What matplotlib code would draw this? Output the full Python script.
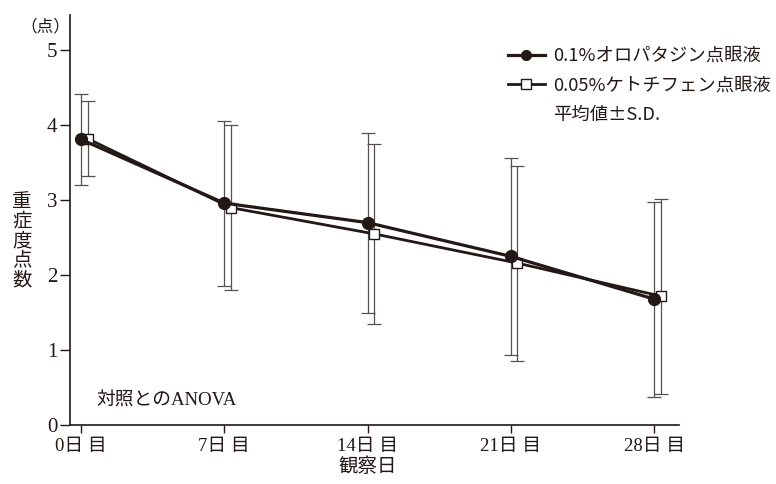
import matplotlib
matplotlib.use("Agg")
import matplotlib.pyplot as plt
from matplotlib.lines import Line2D

# data
days = [0, 7, 14, 21, 28]
day_labels = ["0日 目", "7日 目", "14日 目", "21日 目", "28日 目"]
olo_mean = [3.81, 2.96, 2.70, 2.25, 1.68]
olo_sd = [0.61, 1.10, 1.20, 1.31, 1.30]
keto_mean = [3.82, 2.90, 2.55, 2.16, 1.72]
keto_sd = [0.50, 1.10, 1.20, 1.30, 1.30]
names = ["0.1%オロパタジン点眼液", "0.05%ケトチフェン点眼液"]

ink = "#231815"
serif_jp = ["Liberation Serif", "Noto Sans CJK JP"]
sans_jp = ["Noto Sans CJK JP", "DejaVu Sans"]

fig = plt.figure(figsize=(7.76, 4.84), dpi=100)
ax = fig.add_axes([70 / 776, 59 / 484, 609 / 776, 410 / 484])

shift = 0.32  # square series drawn slightly right of the tick
x2 = [d + shift for d in days]

ax.errorbar(days, olo_mean, yerr=olo_sd, fmt="none", ecolor="#555050",
            elinewidth=0.9, capsize=4.7, capthick=0.9, zorder=2)
ax.errorbar(x2, keto_mean, yerr=keto_sd, fmt="none", ecolor="#555050",
            elinewidth=0.9, capsize=4.7, capthick=0.9, zorder=2)
ax.plot(days, olo_mean, color=ink, lw=2.3, marker="o", ms=8.5,
        mfc=ink, mec=ink, zorder=4)
ax.plot(x2, keto_mean, color=ink, lw=2.0, marker="s", ms=7,
        mfc="white", mec=ink, mew=1.0, zorder=3)

ax.set_xlim(-0.54, 29.22)
ax.set_ylim(0, 5.47)
ax.set_xticks(days)
ax.set_xticklabels(day_labels, family=serif_jp, fontsize=13.5)
ax.set_yticks([0, 1, 2, 3, 4, 5])
ax.set_yticklabels(["0", "1", "2", "3", "4", "5"], family=serif_jp, fontsize=15)
ax.tick_params(axis="x", direction="out", length=6, width=1.0, color=ink,
               labelcolor=ink, pad=3)
ax.tick_params(axis="y", direction="out", length=7, width=1.0, color=ink,
               labelcolor=ink, pad=2)
for s in ["top", "right"]:
    ax.spines[s].set_visible(False)
for s in ["left", "bottom"]:
    ax.spines[s].set_color(ink)
    ax.spines[s].set_linewidth(1.2)

fig.text(45 / 776, 1 - 27 / 484, "（点）", family=serif_jp, fontsize=12,
         color=ink, ha="center", va="center")
fig.text(22 / 776, 1 - 241 / 484, "重\n症\n度\n点\n数", family=sans_jp,
         fontsize=14, color=ink, ha="center", va="center", linespacing=0.92)
fig.text(368 / 776, 1 - 467 / 484, "観察日", family=sans_jp, fontsize=14,
         color=ink, ha="center", va="center")
ax.text(96 / 776, 1 - 401 / 484, "対照とのANOVA", transform=fig.transFigure,
        family=serif_jp, fontsize=13.5, color=ink, ha="left", va="center")

handles = [
    Line2D([], [], color=ink, lw=2.3, marker="o", ms=7, mfc=ink, mec=ink),
    Line2D([], [], color=ink, lw=2.0, marker="s", ms=6.5, mfc="white", mec=ink),
    Line2D([], [], color="none"),
]
leg = fig.legend(handles, names + ["平均値±S.D."], loc="upper left",
                 bbox_to_anchor=(508 / 776, 1 - 47 / 484), frameon=False,
                 prop={"family": sans_jp, "size": 13.2}, handlelength=2.0,
                 handletextpad=0.45, labelspacing=0.62, borderpad=0,
                 borderaxespad=0)
for t in leg.get_texts():
    t.set_color(ink)

fig.savefig("out.png", dpi=100)
